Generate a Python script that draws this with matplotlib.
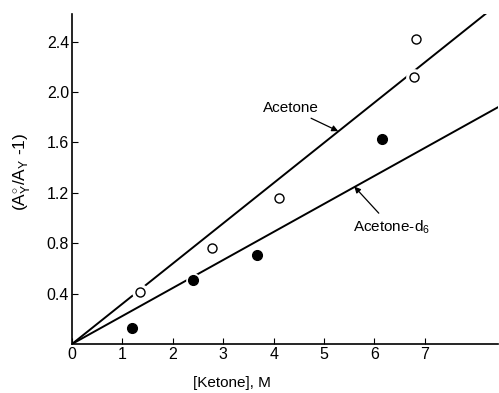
import matplotlib

matplotlib.use("Agg")
import matplotlib.pyplot as plt

acetone_x = [1.35, 2.77, 4.10, 6.79, 6.82]
acetone_y = [0.41, 0.76, 1.16, 2.12, 2.42]
d6_x = [1.19, 2.40, 3.66, 6.14]
d6_y = [0.13, 0.51, 0.71, 1.63]

fit_x = [0.0, 8.45]
acetone_fit = [0.0, 2.70]
d6_fit = [0.0, 1.88]

x_ticks = [0, 1, 2, 3, 4, 5, 6, 7]
y_ticks = [0.4, 0.8, 1.2, 1.6, 2.0, 2.4]
y_tick_labels = ["0.4", "0.8", "1.2", "1.6", "2.0", "2.4"]

plt.rcParams["font.family"] = ["Liberation Sans", "DejaVu Sans"]
plt.rcParams["mathtext.fontset"] = "custom"
plt.rcParams["mathtext.rm"] = "Liberation Sans"

W, H = 499, 393
fig = plt.figure(figsize=(W / 100, H / 100), dpi=100)
ax = fig.add_axes([72 / W, 1 - 344 / H, (498 - 72) / W, (344 - 14) / H])

ax.plot(fit_x, acetone_fit, color="black", lw=1.4, zorder=2)
ax.plot(fit_x, d6_fit, color="black", lw=1.4, zorder=2)

# white halo so the fit lines break around the markers
ax.plot(acetone_x, acetone_y, "o", ms=11, color="white", mec="white", zorder=3)
ax.plot(d6_x, d6_y, "o", ms=9.5, color="white", mec="white", zorder=3)
ax.plot(acetone_x, acetone_y, "o", ms=6.5, mfc="white", mec="black", mew=1.0, zorder=4)
ax.plot(d6_x, d6_y, "o", ms=7, color="black", zorder=4)

ax.set_xlim(0, 8.45)
ax.set_ylim(0, 2.62)
ax.set_xticks(x_ticks)
ax.set_xticklabels([str(t) for t in x_ticks], fontsize=11.5)
ax.set_yticks(y_ticks)
ax.set_yticklabels(y_tick_labels, fontsize=11.5)
ax.tick_params(direction="in", length=4, width=0.8, pad=2)
for side in ["top", "right"]:
    ax.spines[side].set_visible(False)
for side in ["left", "bottom"]:
    ax.spines[side].set_linewidth(1.2)

ax.annotate("Acetone", xy=(5.28, 1.69), xytext=(3.78, 1.87), fontsize=11,
            ha="left", va="center",
            arrowprops=dict(arrowstyle="-|>", color="black", lw=0.9,
                            shrinkA=0, shrinkB=0, mutation_scale=9))
ax.annotate("Acetone-d$_6$", xy=(5.60, 1.25), xytext=(5.57, 0.93), fontsize=11,
            ha="left", va="center",
            arrowprops=dict(arrowstyle="-|>", color="black", lw=0.9,
                            shrinkA=2, shrinkB=0, mutation_scale=9))

fig.text(22 / W, 1 - 172 / H, r"(A$_\mathrm{Y}^{\circ}$/A$_\mathrm{Y}$ -1)",
         rotation=90, ha="center", va="center", fontsize=12.5)
fig.text(232 / W, 1 - 383 / H, "[Ketone], M", ha="center", va="center", fontsize=11)

fig.savefig("out.png", dpi=100)
